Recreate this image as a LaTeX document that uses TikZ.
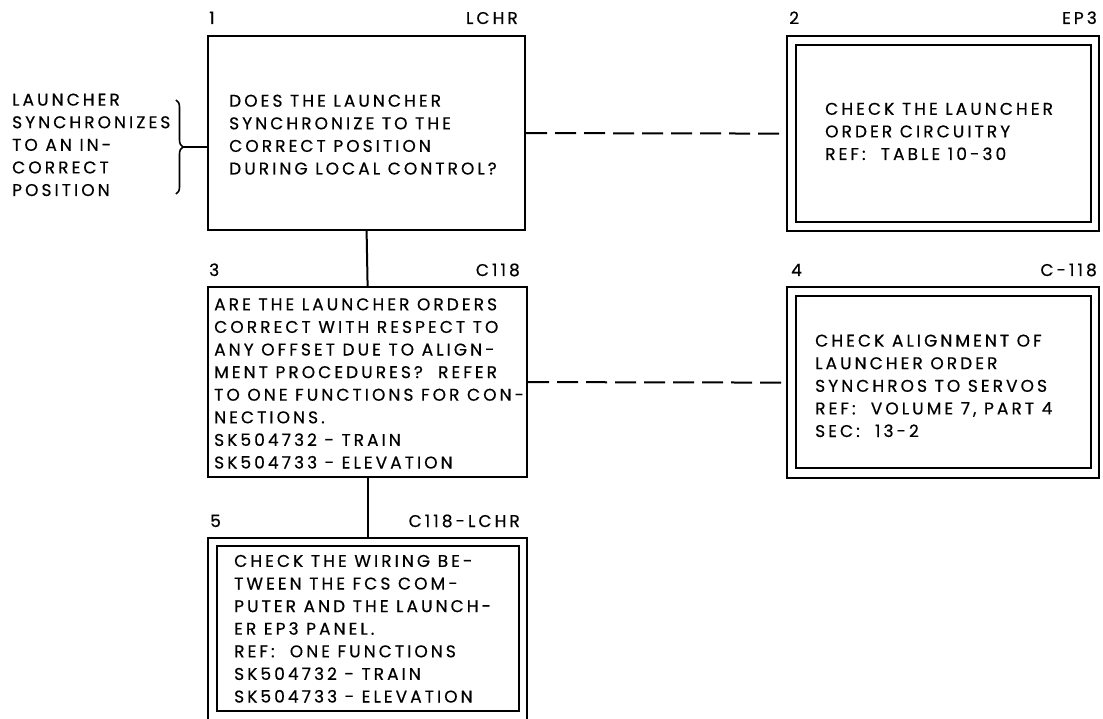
\documentclass[tikz,border=0pt]{standalone}
\usepackage{fontspec}
\setmainfont{Poppins}[LetterSpace=18,FakeBold=0.5]
\usetikzlibrary{decorations.pathreplacing}
\newcommand\dgfont{\fontsize{17}{22.6}\selectfont}
\begin{document}
\begin{tikzpicture}[x=1pt,y=-1pt,
  frame/.style={draw, line width=2.2pt, inner sep=0pt, anchor=north west},
  innerframe/.style={draw, line width=2pt, inner sep=0pt, anchor=north west},
  txt/.style={anchor=base west, inner sep=0pt, align=left, font=\dgfont},
  lbl/.style={anchor=base west, inner sep=0pt, font=\dgfont},
  rlbl/.style={anchor=base east, inner sep=0pt, font=\dgfont},
  conn/.style={line width=2pt},
  dconn/.style={line width=2pt, dash pattern=on 21pt off 8pt},
  bracestyle/.style={line width=1.6pt, decorate, decoration={brace, amplitude=7pt}}]
\useasboundingbox (0,0) rectangle (1103,719);
\fill[white] (0,0) rectangle (1103,719);
\clip (0,0) rectangle (1103,719);

% boxes
\node[frame, minimum width=317pt, minimum height=194pt] (b1) at (207,35) {};
\node[frame, minimum width=312pt, minimum height=195pt] (b2) at (786,35) {};
\node[innerframe, minimum width=295pt, minimum height=177pt] (b2i) at (795,44) {};
\node[frame, minimum width=319pt, minimum height=190pt] (b3) at (207,286) {};
\node[frame, minimum width=312pt, minimum height=191pt] (b4) at (786,286) {};
\node[innerframe, minimum width=295pt, minimum height=172pt] (b4i) at (795,295) {};
\node[frame, minimum width=319pt, minimum height=200pt] (b5) at (207,537) {};
\node[innerframe, minimum width=302pt, minimum height=165pt] (b5i) at (216,545) {};

% labels
\node[lbl] (l1) at (209,24) {1};
\node[rlbl] (r1) at (518,24) {LCHR};
\node[lbl] (l2) at (789,24) {2};
\node[rlbl] (r2) at (1097,24) {EP3};
\node[lbl] (l3) at (209,276) {3};
\node[rlbl] (r3) at (520,276) {C118};
\node[lbl] (l4) at (791,276) {4};
\node[rlbl] (r4) at (1097,276) {C-118};
\node[lbl] (l5) at (210,527) {5};
\node[rlbl] (r5) at (520,527) {C118-LCHR};

% texts (anchored at the baseline of the last line)
\node[txt] (t0) at (12,196) {LAUNCHER\\SYNCHRONIZES\\TO AN IN-\\CORRECT\\POSITION};
\node[txt] (t1) at (229,174.5) {DOES THE LAUNCHER\\SYNCHRONIZE TO THE\\CORRECT POSITION\\DURING LOCAL CONTROL?};
\node[txt] (t2) at (825,160) {CHECK THE LAUNCHER\\ORDER CIRCUITRY\\REF:\ \ TABLE 10-30};
\node[txt] (t3) at (214,468.5) {ARE THE LAUNCHER ORDERS\\CORRECT WITH RESPECT TO\\ANY OFFSET DUE TO ALIGN-\\MENT PROCEDURES?\ \ REFER\\TO ONE FUNCTIONS FOR CON-\\NECTIONS.\\SK504732 - TRAIN\\SK504733 - ELEVATION};
\node[txt] (t4) at (815,437) {CHECK ALIGNMENT OF\\LAUNCHER ORDER\\SYNCHROS TO SERVOS\\REF:\ \ VOLUME 7, PART 4\\SEC:\ \ 13-2};
\node[txt] (t5) at (234,702.5) {CHECK THE WIRING BE-\\TWEEN THE FCS COM-\\PUTER AND THE LAUNCH-\\ER EP3 PANEL.\\REF:\ \ ONE FUNCTIONS\\SK504732 - TRAIN\\SK504733 - ELEVATION};

% brace
\coordinate (bt) at (176,100);
\coordinate (bb) at (176,194);
\coordinate (tip) at (183,147);
\draw[bracestyle] (bt) -- (bb);
\draw[conn] (tip) -- (tip -| b1.west);

% connectors
\draw[conn] (b1.south) -- (b3.north);
\draw[conn] (b3.south) -- (b5.north);
\draw[dconn] (b1.east) -- (b2.west);
\draw[dconn] (b3.east) -- (b4.west);
\end{tikzpicture}
\end{document}
